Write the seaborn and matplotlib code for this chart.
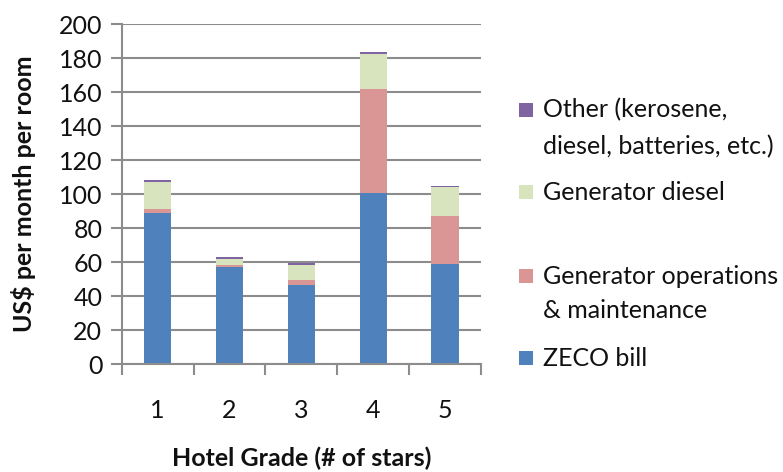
import matplotlib
matplotlib.use('Agg')
import matplotlib.pyplot as plt
from matplotlib.patches import Rectangle
import seaborn as sns
import pandas as pd
import numpy as np

sns.set_theme(style='white')
plt.rcParams['font.family'] = ['Lato', 'DejaVu Sans']
plt.rcParams['text.color'] = '#111111'
plt.rcParams['axes.labelcolor'] = '#111111'
plt.rcParams['xtick.labelcolor'] = '#111111'
plt.rcParams['ytick.labelcolor'] = '#111111'

# ── Data ──────────────────────────────────────────────────────────────────────
grades = ['1', '2', '3', '4', '5']
zeco_bill = [89, 57, 46.5, 100.5, 59]
gen_om = [2, 1, 3, 61, 28]
gen_diesel = [16, 4, 8.5, 21, 17]
other = [1, 1, 1.5, 1.2, 1]

series = ['ZECO bill', 'Generator operations\n& maintenance',
          'Generator diesel', 'Other (kerosene,\ndiesel, batteries, etc.)']
colors = ['#4F81BD', '#D99694', '#D7E4BD', '#8064A2']

df = pd.DataFrame({'grade': grades, 'ZECO bill': zeco_bill, 'O&M': gen_om,
                   'Diesel': gen_diesel, 'Other': other})
layers = ['ZECO bill', 'O&M', 'Diesel', 'Other']
cum = df[layers].cumsum(axis=1)

W, H = 783, 472
fig = plt.figure(figsize=(W / 100, H / 100), dpi=100)
ax = fig.add_axes([121.7 / W, 1 - 364 / H, (481 - 121.7) / W, (364 - 24) / H])

# stacked bars: draw cumulative totals from the top layer down
for layer, color in reversed(list(zip(layers, colors))):
    sns.barplot(x=df['grade'], y=cum[layer], color=color, width=0.38,
                saturation=1, ax=ax, edgecolor='none', linewidth=0, zorder=2)

grid_c = '#8C8C8C'
ax.set_ylim(0, 200)
ax.set_xlim(-0.5, 4.5)
ax.set_yticks(np.arange(0, 201, 20))
ax.yaxis.grid(True, color=grid_c, linewidth=1.5, zorder=0)
ax.set_axisbelow(True)
for s in ['top', 'right']:
    ax.spines[s].set_visible(False)
for s in ['left', 'bottom']:
    ax.spines[s].set_color(grid_c)
    ax.spines[s].set_linewidth(1.5)

fs = 18
ax.tick_params(axis='y', which='major', direction='out', length=8, width=1.5,
               color=grid_c, labelsize=fs, pad=6, left=True)
ax.set_xticks(range(5))
ax.set_xticklabels(grades)
ax.set_xticks(np.arange(-0.5, 5, 1), minor=True)
ax.tick_params(axis='x', which='major', length=0, labelsize=fs, pad=25)
ax.tick_params(axis='x', which='minor', direction='out', length=8, width=1.5,
               color=grid_c, bottom=True)

ax.set_xlabel('Hotel Grade (# of stars)', fontsize=fs, fontweight='bold', labelpad=18)
ax.set_ylabel('US$ per month per room', fontsize=fs, fontweight='bold', labelpad=16)

# legend drawn Excel-style: square aligned with the first text line
entries = [(series[3], colors[3], [110, 147]),
           (series[2], colors[2], [192]),
           (series[1], colors[1], [276, 311]),
           (series[0], colors[0], [358])]
sq = 14
for label, color, ys in entries:
    fig.patches.append(Rectangle((519 / W, 1 - (ys[0] + sq / 2) / H), sq / W, sq / H,
                                 transform=fig.transFigure, facecolor=color,
                                 edgecolor='none'))
    for line, y in zip(label.split('\n'), ys):
        fig.text(543 / W, 1 - y / H, line, fontsize=fs, va='center', ha='left')

fig.savefig('out.png', dpi=100)
